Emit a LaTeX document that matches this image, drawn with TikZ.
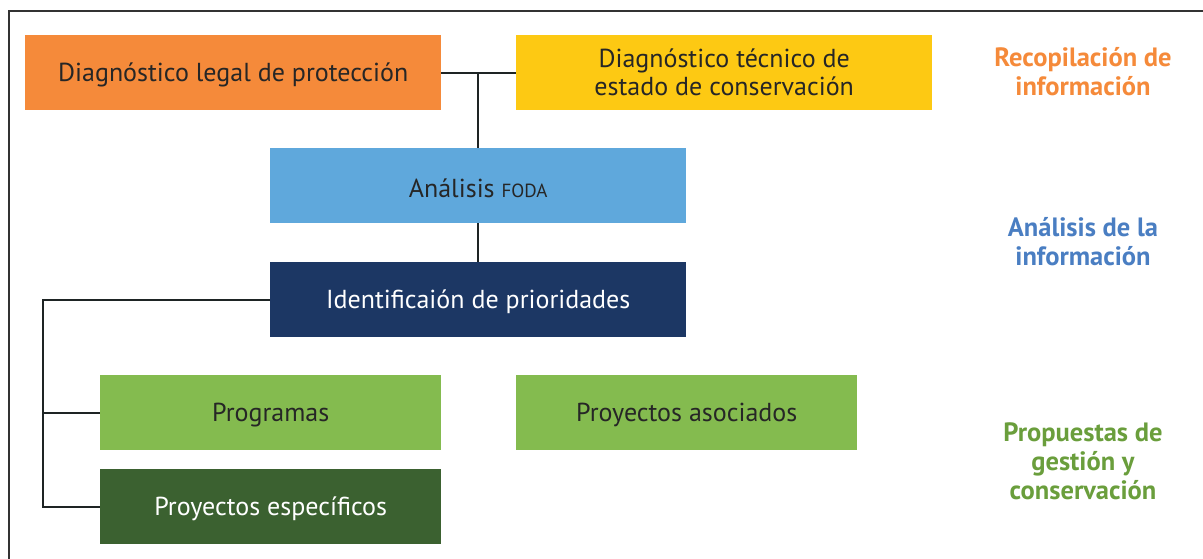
\documentclass[tikz,border=0pt]{standalone}
\usepackage{fontspec}
\setmainfont{PT Sans}
\definecolor{corange}{HTML}{F58A3A}
\definecolor{cyellow}{HTML}{FDC913}
\definecolor{clblue}{HTML}{5FA8DC}
\definecolor{cnavy}{HTML}{1C3764}
\definecolor{clgreen}{HTML}{84BB4F}
\definecolor{cdgreen}{HTML}{3B6130}
\definecolor{ctorange}{HTML}{F58A3A}
\definecolor{ctblue}{HTML}{4A7EC2}
\definecolor{ctgreen}{HTML}{6A9E3C}
\definecolor{cline}{HTML}{1E2424}
\newcommand{\dn}[1]{\raisebox{-2.5pt}[\height][\depth]{#1}}
\begin{document}
\begin{tikzpicture}[x=1pt,y=-1pt,
  box/.style={minimum width=416pt,minimum height=75pt,inner sep=0pt,anchor=north west,font=\fontsize{26}{28}\selectfont,align=center,text=black!85},
  sbox/.style={box,minimum width=341pt},
  conn/.style={draw=cline,line width=2pt},
  lab/.style={font=\fontsize{26.5}{29}\selectfont\bfseries,align=center}]
\useasboundingbox (0,0) rectangle (1203,559);
\draw[line width=1.5pt,draw=black!80] (9,559) -- (9,11) -- (1203,11);
\node[box,fill=corange] (legal) at (25,35) {\dn{Diagnóstico legal de protección}};
\node[box,fill=cyellow] (tec) at (516,35) {Diagnóstico técnico de\\estado de conservación};
\node[box,fill=clblue] (foda) at (270,148) {\dn{Análisis {\fontsize{19}{22}\selectfont FODA}}};
\node[box,fill=cnavy,text=white] (prio) at (270,262) {\dn{Identificaión de prioridades}};
\node[sbox,fill=clgreen,text=black!85] (prog) at (100,375) {\dn{Programas}};
\node[sbox,fill=clgreen,text=black!85] (asoc) at (516,375) {\dn{Proyectos asociados}};
\node[sbox,fill=cdgreen,text=white] (esp) at (100,469) {\dn{Proyectos específicos}};
\coordinate (j1) at (478,73);
\draw[conn] (legal.east) -- (tec.west);
\draw[conn] (j1 |- legal.east) -- (j1 |- foda.north);
\draw[conn] (foda.south -| j1) -- (prio.north -| j1);
\coordinate (bx) at (43,0);
\coordinate (bl) at (bx |- prio.west);
\draw[conn] (prio.west) -- (bl) |- (esp.west);
\draw[conn] (bl |- prog.west) -- (prog.west);
\node[lab,text=ctorange] (l1) at (1083,72) {Recopilación de\\información};
\node[lab,text=ctblue] (l2) at (1083,242) {Análisis de la\\información};
\node[lab,text=ctgreen] (l3) at (1083,461) {Propuestas de\\gestión y\\conservación};
\end{tikzpicture}
\end{document}
